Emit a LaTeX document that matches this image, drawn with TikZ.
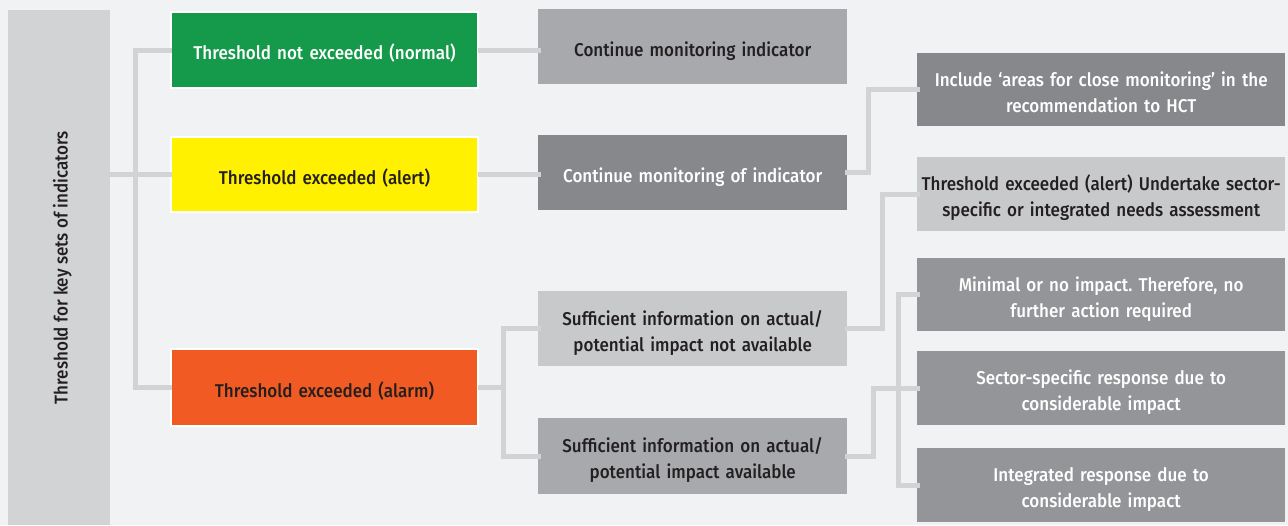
\documentclass[tikz,border=0pt]{standalone}
\usepackage{fontspec}
\setmainfont{Fira Sans}[FakeStretch=0.92, UprightFont=* Medium]
\usetikzlibrary{calc}
\definecolor{bgc}{HTML}{F1F2F3}
\definecolor{barc}{HTML}{D1D3D4}
\definecolor{linec}{HTML}{D1D3D4}
\definecolor{grnc}{HTML}{15994A}
\definecolor{yelc}{HTML}{FFF100}
\definecolor{orgc}{HTML}{F15A22}
\definecolor{lgc}{HTML}{A7A9AC}
\definecolor{dgc}{HTML}{87888C}
\definecolor{pgc}{HTML}{C8C9CB}
\definecolor{mgc}{HTML}{939598}
\definecolor{txt}{HTML}{231F20}
\tikzset{
  box/.style={anchor=north west, inner sep=0pt, align=center, text width=#1pt-2pt,
    font=\fontsize{18.5}{26}\selectfont\frenchspacing,
    execute at begin node={\rule{0pt}{26pt}},
    execute at end node={\rule[-7pt]{0pt}{7pt}}},
  box/.default=307,
  colbox/.style={draw=white, line width=2pt},
  conn/.style={draw=linec, line width=5pt, line join=miter, line cap=rect},
}
\begin{document}
\begin{tikzpicture}[x=1pt,y=-1pt]
\fill[bgc] (0,0) rectangle (1288,525);
\useasboundingbox (0,0) rectangle (1288,525);
% left bar
\node[anchor=north west, fill=barc, minimum width=102pt, minimum height=515pt, inner sep=0pt] (bar) at (8,10) {};
\node[rotate=90, text=txt, font=\fontsize{18.5}{26}\selectfont] (bartxt) at ([xshift=3pt]bar.center) {Threshold for key sets of indicators};
% column 1
\node[box, colbox, fill=grnc, text=white, minimum width=307pt, minimum height=76pt] (grn) at (170,11) {Threshold not exceeded (normal)};
\node[box, colbox, fill=yelc, text=txt, minimum width=307pt, minimum height=75pt] (yel) at (170,136) {Threshold exceeded (alert)};
\node[box, colbox, fill=orgc, text=txt, minimum width=307pt, minimum height=77pt] (org) at (170,348) {Threshold exceeded (alarm)};
% column 2
\node[box=309, fill=lgc, text=txt, minimum width=309pt, minimum height=75pt] (cmi) at (538,9) {Continue monitoring indicator};
\node[box=309, fill=dgc, text=white, minimum width=309pt, minimum height=75pt] (cmo) at (538,135) {Continue monitoring of indicator};
\node[box=309, fill=pgc, text=txt, minimum width=309pt, minimum height=75pt] (na) at (538,291) {Sufficient information on actual/\\potential impact not available};
\node[box=309, fill=lgc, text=txt, minimum width=309pt, minimum height=76pt] (av) at (538,418) {Sufficient information on actual/\\potential impact available};
% column 3
\node[box=368, fill=dgc, text=white, minimum width=368pt, minimum height=73pt] (inc) at (917,53) {Include ‘areas for close monitoring’ in the\\recommendation to HCT};
\node[box=368, fill=pgc, text=txt, minimum width=368pt, minimum height=74pt] (ale) at (917,157) {Threshold exceeded (alert) Undertake sector-\\specific or integrated needs assessment};
\node[box=368, fill=mgc, text=white, minimum width=368pt, minimum height=73pt] (min) at (917,258) {Minimal or no impact. Therefore, no\\further action required};
\node[box=368, fill=mgc, text=white, minimum width=368pt, minimum height=74pt] (sec) at (917,351) {Sector-specific response due to\\considerable impact};
\node[box=368, fill=mgc, text=white, minimum width=368pt, minimum height=74pt] (int) at (917,448) {Integrated response due to\\considerable impact};
% connectors
\draw[conn] (bar.east |- yel.west) -- ([xshift=-1pt]yel.west);
\draw[conn] ([xshift=-1pt]grn.west) -- ++(-34,0) |- ([xshift=-1pt]org.west);
\draw[conn] ([xshift=1pt]grn.east) -- (cmi.west |- grn.east);
\draw[conn] ([xshift=1pt]yel.east) -- (cmo.west |- yel.east);
\draw[conn] (cmo.east) -- ++(21,0) |- (inc.west);
\coordinate (ot) at ([xshift=-35pt]na.west |- org.east);
\draw[conn] ([xshift=1pt]org.east) -- (ot);
\draw[conn] (na.west) -| (ot) |- (av.west);
\draw[conn] (na.east) -- ++(35,0) |- (ale.west);
\draw[conn] (av.east) -- ++(26,0) |- (sec.west);
\draw[conn] (min.west) -- ++(-19,0) |- (int.west);
\end{tikzpicture}
\end{document}
